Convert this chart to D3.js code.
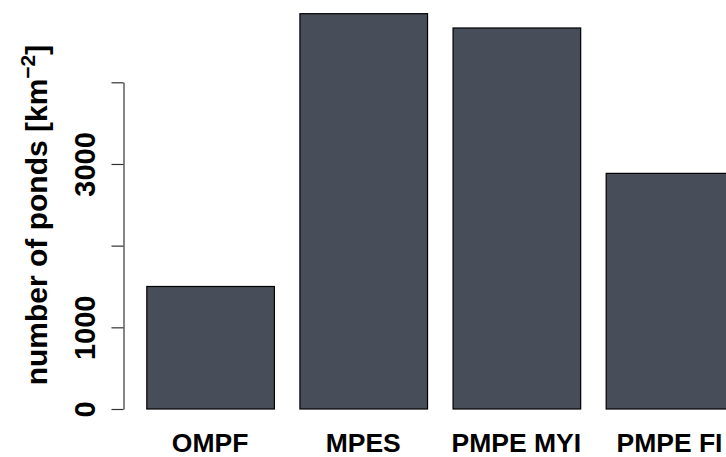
<!DOCTYPE html>
<html>
<head>
<meta charset="utf-8">
<script src="https://cdn.jsdelivr.net/npm/d3@7"></script>
<style>
  html, body { margin: 0; padding: 0; background: #ffffff; }
  svg { display: block; font-family: "Liberation Sans", Arial, Helvetica, sans-serif; font-weight: bold; }
</style>
</head>
<body>
<svg id="chart" width="726" height="457"></svg>
<script>
// Pond density per ice class
const categories = ["OMPF", "MPES", "PMPE MYI", "PMPE FI"];
const pondsPerKm2 = [1500, 4840, 4665, 2885];

// y axis ticks; some labels are left blank as in a crowded base-graphics axis
const yTickValues = [0, 1000, 2000, 3000, 4000];
const yTickLabels = ["0", "1000", "", "3000", ""];

const svg = d3.select("#chart");

const x = d3.scaleBand()
  .domain(categories)
  .range([122.8, 756.8])
  .paddingInner(0.1666)
  .paddingOuter(0.1535);

const y = d3.scaleLinear()
  .domain([0, 4000])
  .range([409, 82.3]);

// bars
svg.append("g")
  .selectAll("rect")
  .data(categories)
  .join("rect")
  .attr("x", d => x(d) + 0.5)
  .attr("y", (d, i) => y(pondsPerKm2[i]))
  .attr("width", x.bandwidth())
  .attr("height", (d, i) => y(0) - y(pondsPerKm2[i]))
  .attr("fill", "#484e59")
  .attr("stroke", "#000000")
  .attr("stroke-width", 1.2);

// category labels under the bars
svg.append("g")
  .selectAll("text")
  .data(categories)
  .join("text")
  .attr("x", d => x(d) + x.bandwidth() / 2)
  .attr("y", 451.5)
  .attr("text-anchor", "middle")
  .attr("font-size", 26.5)
  .attr("fill", "#000000")
  .text(d => d);

// left axis
const yAxis = d3.axisLeft(y)
  .tickValues(yTickValues)
  .tickSize(12)
  .tickSizeOuter(0)
  .tickFormat((d, i) => yTickLabels[i]);

const gAxis = svg.append("g")
  .attr("transform", "translate(123.5,0)")
  .call(yAxis);

gAxis.select(".domain")
  .attr("stroke", "#333333")
  .attr("stroke-width", 1.2);
gAxis.selectAll(".tick line")
  .attr("stroke", "#333333")
  .attr("stroke-width", 1.2);
gAxis.selectAll(".tick text")
  .attr("x", null)
  .attr("dy", null)
  .attr("transform", "translate(-29,0) rotate(-90)")
  .attr("text-anchor", "middle")
  .attr("font-size", 29)
  .attr("font-family", "'Liberation Sans', Arial, sans-serif")
  .attr("font-weight", "bold")
  .attr("fill", "#000000");

// y axis title with superscript unit exponent
const title = svg.append("text")
  .attr("transform", "translate(47,215) rotate(-90)")
  .attr("text-anchor", "middle")
  .attr("font-size", 30)
  .attr("fill", "#000000");
title.append("tspan").text("number of ponds [km");
title.append("tspan")
  .attr("font-size", 21)
  .attr("dy", -12)
  .text("\u22122");
title.append("tspan")
  .attr("dy", 12)
  .text("]");
</script>
</body>
</html>
